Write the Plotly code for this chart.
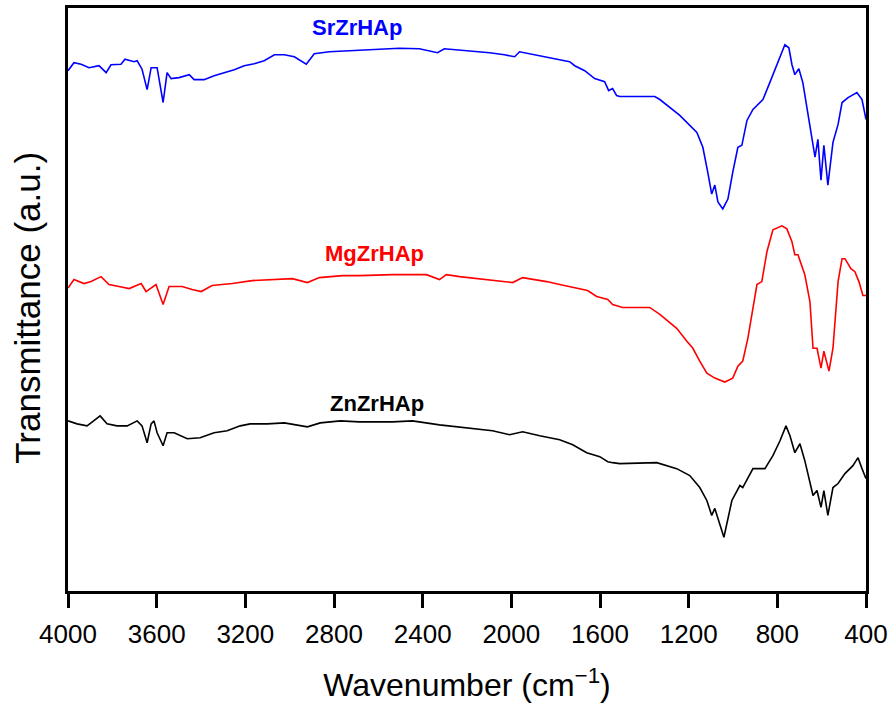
import plotly.graph_objects as go

# FTIR spectra (wavenumber in cm^-1, transmittance in arbitrary units, offset per sample)
sr_wn = [4000, 3973, 3941, 3905, 3860, 3828, 3806, 3761, 3743, 3702, 3688, 3666, 3643, 3625,
         3598, 3571, 3553, 3535, 3499, 3453, 3431, 3386, 3341, 3295, 3250, 3205, 3160, 3115,
         3069, 3024, 2979, 2925, 2889, 2821, 2753, 2686, 2595, 2505, 2415, 2333, 2302, 2189,
         2098, 2031, 1985, 1963, 1872, 1805, 1737, 1714, 1669, 1624, 1579, 1561, 1543, 1525,
         1511, 1421, 1353, 1330, 1240, 1163, 1136, 1114, 1096, 1082, 1068, 1046, 1023, 1001,
         978, 960, 937, 910, 879, 865, 834, 802, 766, 748, 734, 721, 703, 685, 662, 644, 630,
         617, 603, 590, 572, 549, 526, 508, 481, 441, 418, 400]
sr_t = [104.6, 106.2, 105.9, 105.2, 105.6, 104.2, 105.8, 105.9, 106.9, 106.4, 106.6, 104.9,
        100.8, 105.2, 105.2, 98.2, 104.2, 103.0, 103.2, 103.8, 102.8, 102.8, 103.6, 104.2,
        104.8, 105.6, 106.0, 106.6, 107.8, 107.8, 107.4, 105.9, 108.0, 108.4, 108.6, 108.7,
        108.9, 109.1, 109.0, 108.2, 109.0, 108.6, 108.2, 107.8, 107.4, 108.4, 107.6, 107.0,
        106.4, 105.6, 104.6, 103.0, 102.4, 100.6, 101.0, 99.6, 99.4, 99.4, 99.4, 98.8, 95.6,
        92.2, 89.2, 84.2, 79.8, 81.6, 78.2, 76.8, 78.8, 84.2, 89.2, 89.6, 94.6, 96.8, 98.2,
        98.8, 102.2, 105.8, 109.8, 109.2, 105.8, 103.8, 105.0, 102.2, 96.2, 91.2, 87.2, 90.8,
        82.6, 89.6, 81.6, 90.2, 93.8, 98.2, 99.2, 100.2, 98.8, 94.8]

mg_wn = [4000, 3973, 3928, 3896, 3851, 3815, 3770, 3724, 3670, 3648, 3603, 3571, 3544, 3485,
         3440, 3399, 3350, 3259, 3169, 3079, 2988, 2920, 2866, 2762, 2686, 2536, 2383, 2324,
         2293, 2234, 2112, 2053, 1994, 1949, 1841, 1782, 1737, 1692, 1656, 1615, 1565, 1543,
         1498, 1421, 1376, 1330, 1254, 1208, 1181, 1150, 1118, 1082, 1037, 1001, 978, 956,
         933, 892, 870, 847, 820, 779, 757, 734, 721, 707, 676, 653, 639, 621, 603, 590, 567,
         549, 526, 508, 495, 468, 450, 432, 414, 400]
mg_t = [60.9, 62.6, 61.8, 62.2, 63.2, 61.6, 61.2, 60.8, 61.8, 60.2, 61.6, 57.6, 61.2, 61.2,
        60.6, 60.2, 61.4, 61.8, 62.4, 62.6, 62.8, 62.0, 63.0, 63.4, 63.4, 63.6, 63.6, 62.6,
        63.6, 63.2, 62.6, 62.4, 62.0, 63.0, 62.2, 61.6, 61.2, 60.8, 60.4, 59.2, 58.6, 57.6,
        57.0, 57.0, 57.0, 55.6, 52.8, 50.2, 48.8, 46.2, 43.8, 42.8, 42.0, 42.8, 45.2, 46.2,
        50.8, 61.6, 62.2, 68.2, 72.6, 73.4, 72.8, 70.2, 67.6, 67.6, 63.6, 58.2, 48.8, 48.8,
        44.8, 48.2, 44.2, 48.8, 62.2, 66.8, 66.8, 64.8, 64.2, 62.2, 59.4, 59.4]

zn_wn = [4000, 3959, 3914, 3883, 3855, 3824, 3779, 3733, 3688, 3666, 3643, 3625, 3612, 3598,
         3571, 3553, 3521, 3462, 3404, 3341, 3282, 3223, 3178, 3101, 3024, 2920, 2862, 2771,
         2686, 2536, 2446, 2324, 2234, 2085, 2008, 1949, 1872, 1782, 1723, 1660, 1601, 1565,
         1543, 1511, 1344, 1254, 1195, 1150, 1118, 1096, 1082, 1041, 1005, 969, 956, 910, 856,
         820, 788, 761, 743, 721, 698, 676, 639, 621, 603, 590, 572, 549, 526, 495, 459, 436,
         418, 400]
zn_t = [34.2, 33.6, 33.2, 34.2, 35.2, 33.6, 33.2, 33.2, 34.2, 33.2, 29.8, 33.6, 34.2, 31.8,
        29.2, 31.8, 31.8, 30.6, 30.8, 31.8, 32.2, 33.2, 33.6, 33.6, 33.8, 33.0, 33.8, 34.2,
        34.0, 34.0, 34.2, 33.4, 33.0, 32.2, 31.4, 32.0, 31.2, 30.4, 29.4, 27.8, 27.0, 26.0,
        25.8, 25.6, 25.8, 24.6, 23.2, 20.8, 18.2, 15.2, 16.6, 10.8, 18.2, 21.2, 20.8, 24.6,
        24.6, 27.2, 30.2, 33.2, 31.2, 27.8, 29.6, 26.2, 19.2, 20.2, 16.8, 20.2, 15.2, 20.8,
        21.6, 23.6, 25.2, 26.8, 24.6, 22.6]

samples = ["SrZrHAp", "MgZrHAp", "ZnZrHAp"]
colors = ["#0000ff", "#ff0000", "#000000"]
label_wn = [2695, 2618, 2604]
label_t = [113.2, 67.8, 37.6]

tick_vals = [4000, 3600, 3200, 2800, 2400, 2000, 1600, 1200, 800, 400]

fig = go.Figure()
for name, wn, t, c in zip(samples, [sr_wn, mg_wn, zn_wn], [sr_t, mg_t, zn_t], colors):
    fig.add_trace(go.Scatter(x=wn, y=t, mode="lines", name=name,
                             line=dict(color=c, width=1.6), showlegend=False))

for name, xw, yt, c in zip(samples, label_wn, label_t, colors):
    fig.add_annotation(x=xw, y=yt, text=f"<b>{name}</b>", showarrow=False,
                       font=dict(family="Liberation Sans, Arial", size=22, color=c))

# vertical axis title, placed beside the frame
fig.add_annotation(xref="paper", yref="paper", x=-0.05, y=0.486, text="Transmittance (a.u.)",
                   textangle=-90, showarrow=False, xanchor="center", yanchor="middle",
                   font=dict(family="Liberation Sans, Arial", size=35, color="black"))

fig.update_layout(
    width=895, height=708,
    margin=dict(l=68, r=29, t=5, b=117),
    paper_bgcolor="white", plot_bgcolor="white",
    font=dict(family="Liberation Sans, Arial", color="black"),
    xaxis=dict(range=[4000, 400], tickvals=tick_vals, ticks="outside", ticklen=14,
               tickwidth=3, tickcolor="black", showline=True, linewidth=3,
               linecolor="black", mirror=True, showgrid=False, zeroline=False,
               tickfont=dict(size=26), ticklabelstandoff=4,
               title=dict(text="Wavenumber (cm<sup>\u22121</sup>)", font=dict(size=32),
                          standoff=26)),
    yaxis=dict(range=[0, 117.2], showticklabels=False, ticks="", showline=True,
               linewidth=3, linecolor="black", mirror=True, showgrid=False,
               zeroline=False),
)

fig.write_html("out.html")
